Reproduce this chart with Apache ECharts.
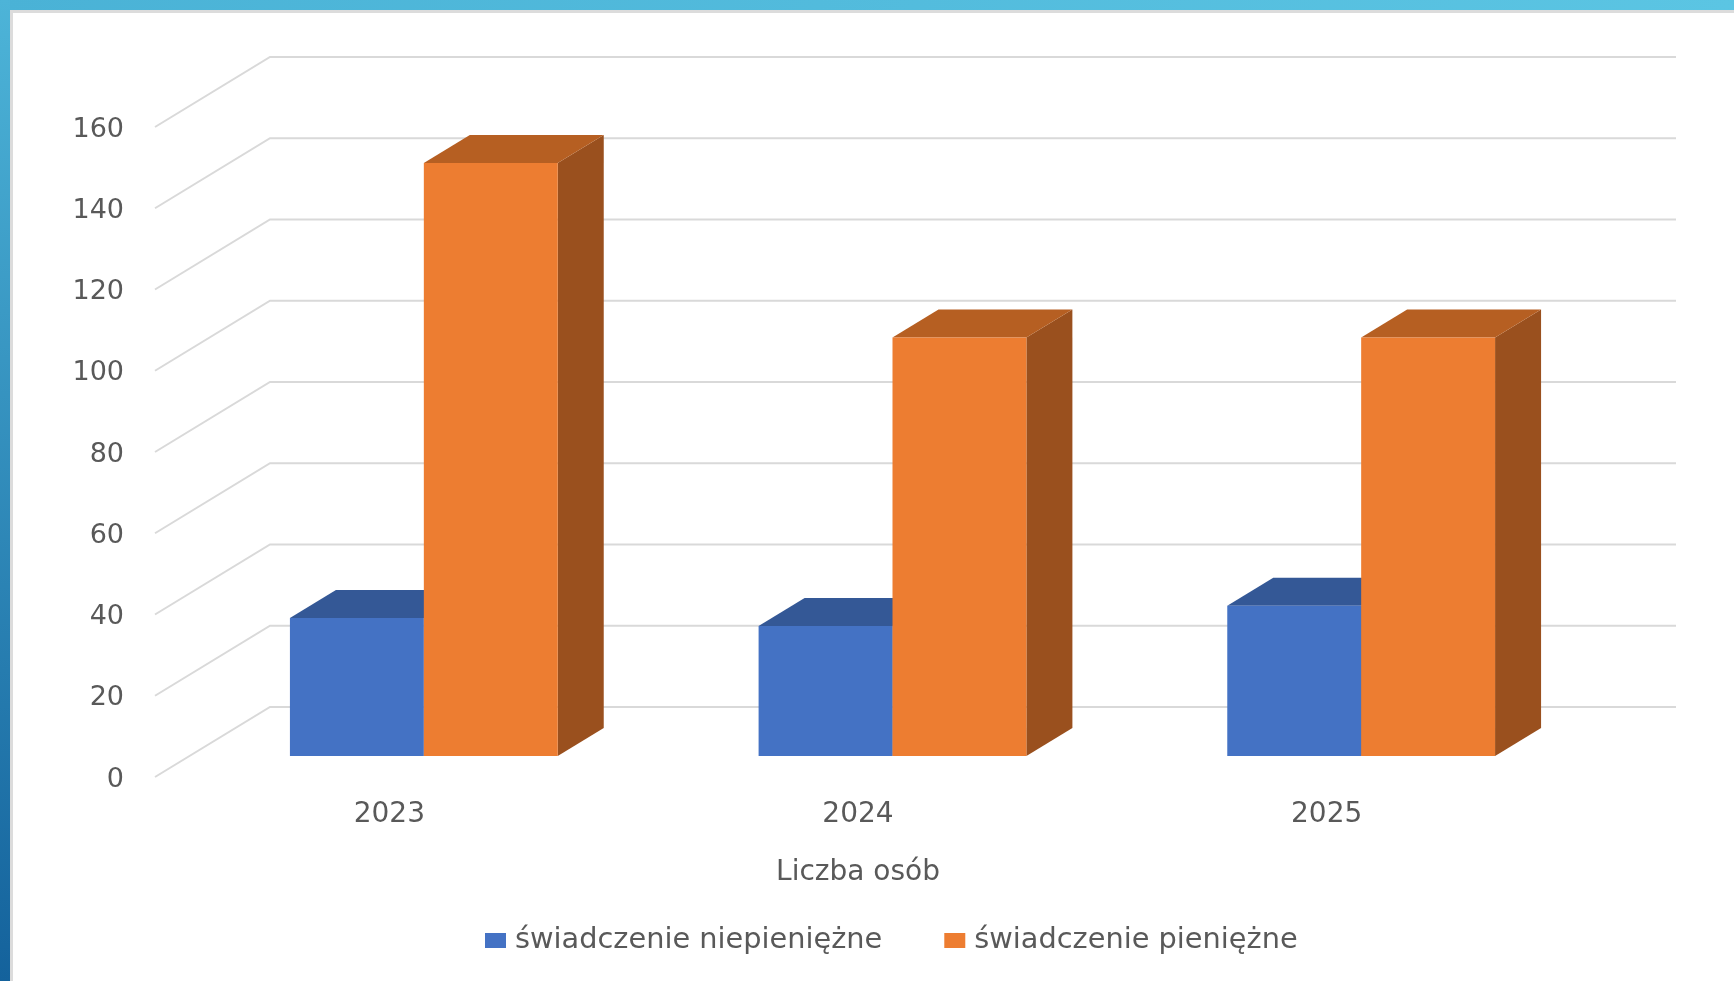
<!DOCTYPE html>
<html>
<head>
<meta charset="utf-8">
<style>
  html, body { margin: 0; padding: 0; background: #ffffff; }
  #chart { width: 1734px; height: 981px; }
</style>
<script src="https://cdn.jsdelivr.net/npm/echarts@6/dist/echarts.min.js"></script>
</head>
<body>
<div id="chart"></div>
<script>
// ---- data ----
const categories = ['2023', '2024', '2025'];
const seriesNames = ['świadczenie niepieniężne', 'świadczenie pieniężne'];
const valuesNonCash = [34, 32, 37];
const valuesCash = [146, 103, 103];
const yTicks = [0, 20, 40, 60, 80, 100, 120, 140, 160];
const axisTitle = 'Liczba osób';

// ---- 3D look (styling only) ----
const DEPTH_X = 115, DEPTH_Y = -70;   // full depth of the floor in pixels
const FRONT = 0.3, BACK = 0.7;         // bar position along depth
const BAR_FRAC = 1 / 3.5;              // gap width 150%
const FONT = '"DejaVu Sans", Verdana, sans-serif';
const TXT = '#595959';

const palettes = [
  { front: '#4472C4', top: '#345896', side: '#2F5597' },
  { front: '#ED7D31', top: '#B65F22', side: '#9A501E' }
];

function barRenderer(sIdx) {
  const c = palettes[sIdx];
  return function (params, api) {
    const idx = api.value(0), val = api.value(1);
    const base = api.coord([idx, 0]);
    const top = api.coord([idx, val]);
    const band = api.size([1, 0])[0];
    const bw = band * BAR_FRAC;
    const ox = DEPTH_X * FRONT, oy = DEPTH_Y * FRONT;
    const dx = DEPTH_X * (BACK - FRONT), dy = DEPTH_Y * (BACK - FRONT);
    const x0 = base[0] + ox + (sIdx === 0 ? -bw : 0);
    const x1 = x0 + bw;
    const yb = base[1] + oy, yt = top[1] + oy;
    return {
      type: 'group',
      children: [
        { type: 'polygon', shape: { points: [[x1, yb], [x1 + dx, yb + dy], [x1 + dx, yt + dy], [x1, yt]] }, style: { fill: c.side } },
        { type: 'polygon', shape: { points: [[x0, yt], [x1, yt], [x1 + dx, yt + dy], [x0 + dx, yt + dy]] }, style: { fill: c.top } },
        { type: 'rect', shape: { x: x0, y: yt, width: bw, height: yb - yt }, style: { fill: c.front } }
      ]
    };
  };
}

function gridRenderer(params, api) {
  const cs = params.coordSys;
  const y = api.coord([0, api.value(1)])[1];
  return {
    type: 'polyline',
    shape: { points: [[cs.x, y], [cs.x + DEPTH_X, y + DEPTH_Y], [cs.x + cs.width + DEPTH_X, y + DEPTH_Y]] },
    style: { stroke: '#D9D9D9', lineWidth: 2, fill: null }
  };
}

const chart = echarts.init(document.getElementById('chart'), null, { renderer: 'canvas' });
chart.setOption({
  animation: false,
  backgroundColor: '#ffffff',
  graphic: [
    { type: 'rect', shape: { x: 0, y: 0, width: 1734, height: 10 }, style: { fill: new echarts.graphic.LinearGradient(0, 0, 1, 0, [{ offset: 0, color: '#4AB2D6' }, { offset: 1, color: '#5BC5E3' }]) }, z: 10 },
    { type: 'rect', shape: { x: 10, y: 10, width: 1724, height: 3 }, style: { fill: '#DCDCDC' }, z: 10 },
    { type: 'rect', shape: { x: 0, y: 0, width: 10, height: 981 }, style: { fill: new echarts.graphic.LinearGradient(0, 0, 0, 1, [{ offset: 0, color: '#4DB4D8' }, { offset: 1, color: '#14629C' }]) }, z: 11 },
    { type: 'rect', shape: { x: 10, y: 10, width: 3, height: 971 }, style: { fill: '#DCDCDC' }, z: 10 }
  ],
  grid: { left: 155, right: 173, top: 127, bottom: 204 },
  legend: {
    data: seriesNames,
    icon: 'rect',
    itemWidth: 21,
    itemHeight: 15,
    itemGap: 62,
    left: 485,
    top: 926,
    padding: 0,
    textStyle: { fontFamily: FONT, fontSize: 28.8, color: TXT, padding: [0, 0, 0, 4] }
  },
  xAxis: {
    type: 'category',
    data: categories,
    axisLine: { show: false },
    axisTick: { show: false },
    axisLabel: { fontFamily: FONT, fontSize: 28, color: TXT, margin: 24 },
    name: axisTitle,
    nameLocation: 'middle',
    nameGap: 82,
    nameTextStyle: { fontFamily: FONT, fontSize: 28, color: TXT }
  },
  yAxis: {
    type: 'value',
    min: 0,
    max: 160,
    interval: 20,
    axisLine: { show: false },
    axisTick: { show: false },
    splitLine: { show: false },
    axisLabel: {
      margin: 31,
      formatter: v => '{t|' + v + '}',
      rich: { t: { fontFamily: FONT, fontSize: 27, color: TXT, padding: [5, 0, 0, 0] } }
    }
  },
  series: [
    {
      type: 'custom', name: '_grid', z: 1, silent: true,
      renderItem: gridRenderer,
      data: yTicks.map(v => [0, v]),
      encode: { x: 0, y: 1 }
    },
    {
      type: 'custom', name: seriesNames[0], z: 2,
      itemStyle: { color: palettes[0].front },
      renderItem: barRenderer(0),
      data: valuesNonCash.map((v, i) => [i, v]),
      encode: { x: 0, y: 1 }
    },
    {
      type: 'custom', name: seriesNames[1], z: 3,
      itemStyle: { color: palettes[1].front },
      renderItem: barRenderer(1),
      data: valuesCash.map((v, i) => [i, v]),
      encode: { x: 0, y: 1 }
    }
  ]
});
</script>
</body>
</html>
